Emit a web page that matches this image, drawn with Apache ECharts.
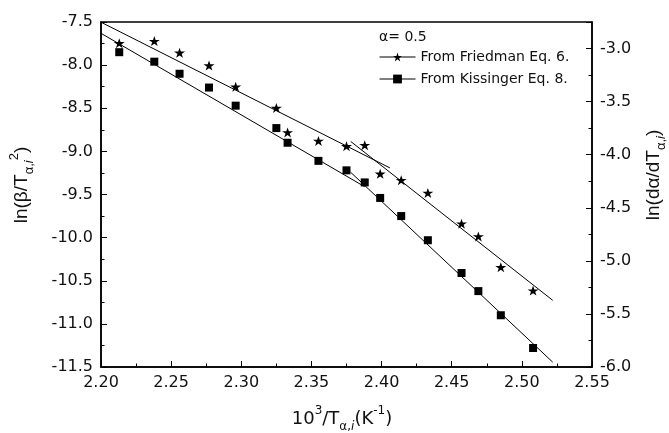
<!DOCTYPE html>
<html>
<head>
<meta charset="utf-8">
<script src="https://cdn.jsdelivr.net/npm/echarts@6/dist/echarts.min.js"></script>
<style>
  html, body { margin: 0; padding: 0; background: #fff; }
  #chart { width: 669px; height: 433px; }
</style>
</head>
<body>
<div id="chart"></div>
<script>
// 10^3 / T(alpha,i) for each heating rate
const xValues = [2.213, 2.238, 2.256, 2.277, 2.296, 2.325, 2.333, 2.355, 2.375,
                 2.388, 2.399, 2.414, 2.433, 2.457, 2.469, 2.485, 2.508];
// ln(dα/dT) – Friedman, right axis
const friedmanValues = [-2.95, -2.93, -3.04, -3.16, -3.36, -3.56, -3.79, -3.87, -3.92,
                        -3.91, -4.18, -4.24, -4.36, -4.65, -4.77, -5.06, -5.28];
// ln(β/T²) – Kissinger, left axis
const kissingerValues = [-7.85, -7.96, -8.10, -8.26, -8.47, -8.73, -8.90, -9.11, -9.22,
                         -9.36, -9.54, -9.75, -10.03, -10.41, -10.62, -10.90, -11.28];

// linear fits (two temperature regions per method), as [x, y] end points
const friedmanFitLow  = [[2.200, -2.752], [2.406, -4.125]];
const friedmanFitHigh = [[2.378, -3.875], [2.522, -5.372]];
const kissingerFitLow  = [[2.200, -7.631], [2.388, -9.410]];
const kissingerFitHigh = [[2.378, -9.243], [2.522, -11.444]];

// axis ranges and tick steps
const xRange = [2.20, 2.55], xStep = 0.05;
const leftRange = [-11.5, -7.5], leftStep = 0.5;
const rightRange = [-6.0, -2.75], rightStep = 0.5;

const seriesNames = ['From Friedman Eq. 6.', 'From Kissinger Eq. 8.'];

const zip = (xs, ys) => xs.map((x, i) => [x, ys[i]]);

const STAR = 'path://M50,0L61.23,34.55L97.55,34.55L68.17,55.9L79.39,90.45L50,69.1L20.61,90.45L31.83,55.9L2.45,34.55L38.77,34.55Z';

const tickFont = { fontFamily: 'DejaVu Sans', fontSize: 16, color: '#111' };
const axisLineStyle = { color: '#000', width: 1.5 };
const tickStyle = { color: '#000', width: 1 };

function valueAxis(range, step, decimals, extra) {
  return Object.assign({
    type: 'value',
    min: range[0],
    max: range[1],
    interval: step,
    splitLine: { show: false },
    axisLine: { show: true, onZero: false, lineStyle: axisLineStyle },
    axisTick: { show: true, inside: true, length: 6, lineStyle: tickStyle },
    minorTick: { show: true, splitNumber: 2, length: 3.5, lineStyle: tickStyle },
    axisLabel: Object.assign({
      formatter: v => {
        const k = v / step;
        return Math.abs(k - Math.round(k)) < 1e-6 ? v.toFixed(decimals) : '';
      }
    }, tickFont)
  }, extra);
}

function fitLine(data, yAxisIndex) {
  return {
    type: 'line', data, yAxisIndex,
    symbol: 'none', silent: true, z: 2,
    lineStyle: { color: '#000', width: 1 },
    emphasis: { disabled: true }
  };
}

const main = { fontSize: 18, lineHeight: 28, fill: '#111' };
function richStyles(family, size, small) {
  return {
    m:    { fontFamily: family, fontSize: size, lineHeight: 28, fill: '#111' },
    sup:  { fontFamily: family, fontSize: small, lineHeight: 13, verticalAlign: 'top', fill: '#111' },
    sub:  { fontFamily: family, fontSize: small, lineHeight: 13, verticalAlign: 'bottom', fill: '#111' },
    subi: { fontFamily: family, fontSize: small, lineHeight: 13, verticalAlign: 'bottom', fontStyle: 'italic', fill: '#111' }
  };
}

const chart = echarts.init(document.getElementById('chart'), null, { renderer: 'canvas' });

chart.setOption({
  animation: false,
  backgroundColor: '#fff',
  grid: {
    left: 101, right: 77, top: 22, bottom: 66,
    show: true, borderColor: '#000', borderWidth: 1.5, backgroundColor: 'transparent'
  },
  xAxis: valueAxis(xRange, xStep, 2, {
    axisLabel: Object.assign({ margin: 8, formatter: v => v.toFixed(2) }, tickFont)
  }),
  yAxis: [
    valueAxis(leftRange, leftStep, 1, { position: 'left' }),
    valueAxis(rightRange, rightStep, 1, { position: 'right' })
  ],
  legend: {
    orient: 'vertical',
    left: 379, top: 50,
    padding: 0,
    itemWidth: 36, itemHeight: 11, itemGap: 8,
    selectedMode: false,
    lineStyle: { color: '#000', width: 1, opacity: 1 },
    itemStyle: { color: '#000' },
    textStyle: { fontFamily: 'DejaVu Sans', fontSize: 14, color: '#111', padding: [0, 0, 0, 0] },
    data: seriesNames
  },
  series: [
    fitLine(friedmanFitLow, 1),
    fitLine(friedmanFitHigh, 1),
    fitLine(kissingerFitLow, 0),
    fitLine(kissingerFitHigh, 0),
    {
      name: seriesNames[0], type: 'line', yAxisIndex: 1,
      data: zip(xValues, friedmanValues),
      symbol: STAR, symbolSize: [11, 10],
      itemStyle: { color: '#000' },
      lineStyle: { opacity: 0 },
      emphasis: { disabled: true }, z: 3
    },
    {
      name: seriesNames[1], type: 'line', yAxisIndex: 0,
      data: zip(xValues, kissingerValues),
      symbol: 'rect', symbolSize: [8, 8],
      itemStyle: { color: '#000' },
      lineStyle: { opacity: 0 },
      emphasis: { disabled: true }, z: 3
    }
  ],
  graphic: [
    {
      type: 'text', x: 342, y: 419,
      style: {
        text: '{m|10}{sup|3}{m|/T}{sub|α,}{subi|i}{m|(K}{sup|-1}{m|)}',
        rich: richStyles('DejaVu Sans', 18, 12),
        align: 'center', verticalAlign: 'middle'
      }
    },
    {
      type: 'text', x: 22, y: 185, rotation: Math.PI / 2,
      style: {
        text: '{m|ln(β/T}{sub|α,}{subi|i}{sup|2}{m|)}',
        rich: richStyles('Liberation Sans', 19, 13),
        align: 'center', verticalAlign: 'middle'
      }
    },
    {
      type: 'text', x: 654, y: 175, rotation: Math.PI / 2,
      style: {
        text: '{m|ln(dα/dT}{sub|α,}{subi|i}{m|)}',
        rich: richStyles('Liberation Sans', 19, 13),
        align: 'center', verticalAlign: 'middle'
      }
    },
    {
      type: 'text', x: 379, y: 37,
      style: {
        text: 'α= 0.5',
        font: '14px "DejaVu Sans"',
        fill: '#111',
        align: 'left', verticalAlign: 'middle'
      }
    }
  ]
});
</script>
</body>
</html>
